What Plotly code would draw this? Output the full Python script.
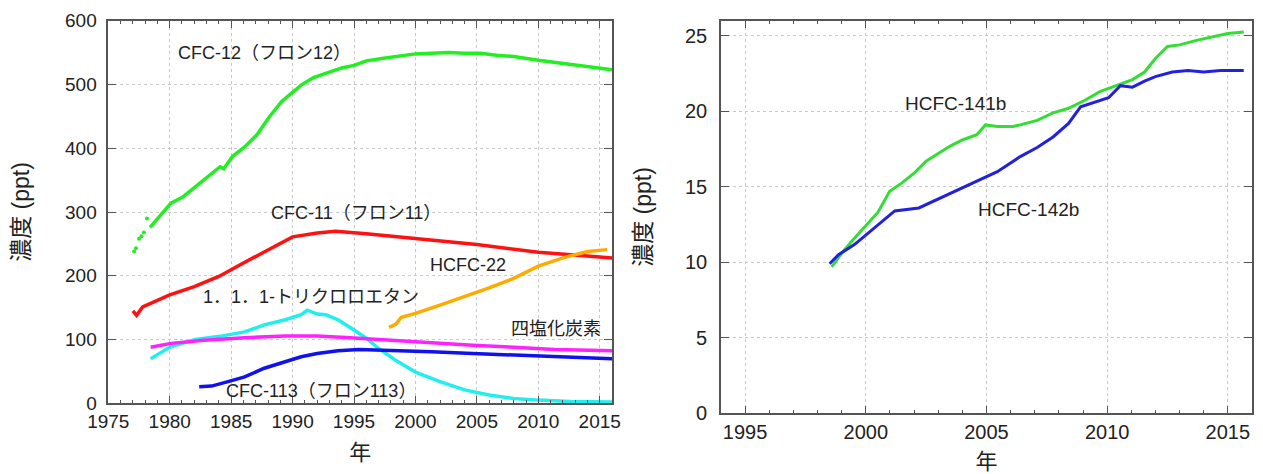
import plotly.graph_objects as go

# ---------------- Left panel data ----------------
cfc12_early_year = [1977.1, 1977.25, 1977.5, 1977.7, 1977.9, 1978.15]
cfc12_early = [238, 243, 258, 262, 268, 290]
cfc12_year = [1978.4, 1979.4, 1980.1, 1981.1, 1982.1, 1983.1, 1984.1, 1984.4, 1985.1, 1986.1,
              1987.1, 1988.1, 1989.1, 1989.7, 1990.7, 1991.7, 1992.7, 1994.0, 1995.0, 1996.0,
              1997.4, 1998.7, 2000.0, 2001.3, 2002.7, 2004.0, 2005.3, 2006.6, 2008.0, 2010.0,
              2011.9, 2013.9, 2015.3, 2016.0]
cfc12 = [276, 298, 314, 324, 340, 355, 371, 368, 387, 402,
         421, 449, 473, 483, 499, 511, 518, 526, 530, 537,
         541, 545, 548, 549, 550, 549, 549, 546, 544, 538,
         533, 528, 524, 523]

cfc11_year = [1977.0, 1977.3, 1977.8, 1980.0, 1982.0, 1984.0, 1986.0, 1988.0, 1990.0, 1992.0,
              1993.5, 1996.0, 2000.0, 2005.0, 2010.0, 2013.0, 2016.0]
cfc11 = [145, 138, 151, 170, 183, 199, 220, 241, 261, 267,
         270, 266, 259, 249, 237, 233, 228]

hcfc22_year = [1997.85, 1998.4, 1998.85, 2000.0, 2002.0, 2004.0, 2006.0, 2008.0, 2010.0, 2012.0,
               2014.0, 2015.6]
hcfc22 = [119, 124, 135, 141, 154, 167, 181, 196, 215, 228, 238, 241]

tca_year = [1978.45, 1979.45, 1980.1, 1982.1, 1984.1, 1986.1, 1987.7, 1989.4, 1990.7, 1991.2,
            1992.0, 1992.7, 1993.7, 1995.0, 1996.0, 1997.0, 1998.35, 2000.0, 2002.0, 2004.0,
            2006.0, 2008.0, 2010.0, 2012.6, 2016.0]
tca = [70, 81, 89, 100, 105, 112, 123, 131, 139, 146,
       140, 139, 131, 115, 102, 86, 68, 49, 34, 21,
       13, 7.6, 5, 3, 2]

ccl4_year = [1978.45, 1980.1, 1982.8, 1986.1, 1989.4, 1992.0, 1994.7, 1998.0, 2001.3, 2004.65,
             2008.0, 2011.3, 2016.0]
ccl4 = [88, 94, 99, 103, 105.5, 105.5, 103, 99, 94, 91, 88, 84.5, 82.5]

cfc113_year = [1982.4, 1983.4, 1984.75, 1986.1, 1987.7, 1989.4, 1990.7, 1992.0, 1993.7, 1995.4,
               1998.0, 2001.3, 2004.65, 2008.0, 2011.3, 2016.0]
cfc113 = [26, 27, 34, 41.5, 55, 65, 73, 78, 82.5, 84.5,
          83.5, 81, 78, 75.5, 74, 70]

# ---------------- Right panel data ----------------
hcfc141b_year = [1998.59, 1999.0, 1999.53, 2000.0, 2000.5, 2000.99, 2001.5, 2002.0, 2002.5, 2003.0,
                 2003.5, 2004.0, 2004.6, 2004.96, 2005.45, 2006.1, 2006.4, 2007.1, 2007.76, 2008.4,
                 2009.1, 2009.7, 2010.4, 2011.05, 2011.55, 2012.0, 2012.5, 2013.0, 2013.7, 2014.3,
                 2015.0, 2015.66]
hcfc141b = [9.7, 10.6, 11.6, 12.4, 13.3, 14.7, 15.26, 15.9, 16.7, 17.2,
            17.7, 18.1, 18.45, 19.1, 19.0, 19.0, 19.1, 19.4, 19.9, 20.2,
            20.75, 21.3, 21.7, 22.1, 22.6, 23.5, 24.3, 24.4, 24.7, 24.9,
            25.15, 25.26]

hcfc142b_year = [1998.5, 1998.87, 1999.53, 2000.0, 2000.5, 2001.2, 2002.2, 2003.0, 2003.8, 2004.6,
                 2005.45, 2006.4, 2007.1, 2007.76, 2008.4, 2008.9, 2009.6, 2010.06, 2010.55, 2011.05,
                 2011.55, 2012.0, 2012.7, 2013.35, 2014.0, 2014.7, 2015.66]
hcfc142b = [9.9, 10.5, 11.17, 11.8, 12.5, 13.4, 13.6, 14.2, 14.8, 15.4,
            16.0, 17.0, 17.6, 18.3, 19.2, 20.3, 20.65, 20.9, 21.7, 21.6,
            22.0, 22.3, 22.6, 22.7, 22.6, 22.7, 22.7]

left_labels = ["CFC-12（フロン12）", "CFC-11（フロン11）", "HCFC-22", "1．1．1-トリクロロエタン",
               "四塩化炭素", "CFC-113（フロン113）"]
right_labels = ["HCFC-141b", "HCFC-142b"]
y_title = "濃度 (ppt)"
x_title = "年"

FONT = "Liberation Sans, Arial, Noto Sans CJK JP, sans-serif"
TXT = "#222222"

fig = go.Figure()

def add_line(x, y, color, xa="x", ya="y", width=3.5):
    fig.add_trace(go.Scatter(x=x, y=y, mode="lines", line=dict(color=color, width=width),
                             xaxis=xa, yaxis=ya, showlegend=False, hoverinfo="skip"))

fig.add_trace(go.Scatter(x=cfc12_early_year, y=cfc12_early, mode="markers",
                         marker=dict(color="#22ee22", size=4), showlegend=False))
add_line(cfc12_year, cfc12, "#22ee22")
add_line(cfc11_year, cfc11, "#ff1111")
add_line(hcfc22_year, hcfc22, "#ffaa00")
add_line(tca_year, tca, "#22eeee")
add_line(ccl4_year, ccl4, "#ff22ff")
add_line(cfc113_year, cfc113, "#1111ee")

add_line(hcfc141b_year, hcfc141b, "#33dd33", "x2", "y2", 3)
add_line(hcfc142b_year, hcfc142b, "#2222dd", "x2", "y2", 3)

left_pos = [(1987.7, 549), (1995.2, 299), (2004.3, 217), (1991.5, 167), (2011.4, 116), (1992.35, 19)]
for t, (xx, yy) in zip(left_labels, left_pos):
    fig.add_annotation(x=xx, y=yy, xref="x", yref="y", text=t, showarrow=False,
                       font=dict(size=18, color=TXT, family=FONT))
right_pos = [(2003.7, 20.55), (2006.75, 13.5)]
for t, (xx, yy) in zip(right_labels, right_pos):
    fig.add_annotation(x=xx, y=yy, xref="x2", yref="y2", text=t, showarrow=False,
                       font=dict(size=19, color=TXT, family=FONT))

def axis_common(fs):
    return dict(showline=True, linecolor="#555555", linewidth=1.5, mirror="ticks",
                ticks="inside", ticklen=8, tickcolor="#555555", tickwidth=1.2,
                showgrid=True, gridcolor="#c8c8c8", griddash="dot", gridwidth=1,
                zeroline=False, automargin=False,
                tickfont=dict(size=fs, color=TXT, family=FONT))

minor = dict(dtick=1, ticks="inside", ticklen=4, tickcolor="#555555", showgrid=False)

# page body has an 8px margin: paper is 1255x466 placed at (8, 8)
fig.update_layout(
    template="none",
    width=1255, height=466,
    margin=dict(l=0, r=0, t=0, b=0, pad=0),
    paper_bgcolor="white", plot_bgcolor="white",
    font=dict(family=FONT, color=TXT),
    showlegend=False,
    xaxis=dict(domain=[0.0799, 0.4813], range=[1975, 2016], dtick=5, tick0=1975, minor=minor,
               title=dict(text=x_title, font=dict(size=22, color=TXT), standoff=14),
               anchor="y", **axis_common(19)),
    yaxis=dict(domain=[0.1517, 0.9727], range=[0, 600], dtick=100, tick0=0,
               title=dict(text=y_title, font=dict(size=23, color=TXT), standoff=29),
               anchor="x", ticklabelstandoff=6, **axis_common(19)),
    xaxis2=dict(domain=[0.5681, 0.9912], range=[1994, 2016], dtick=5, tick0=1995, minor=minor,
                title=dict(text=x_title, font=dict(size=22, color=TXT), standoff=14),
                anchor="y2", **axis_common(20)),
    yaxis2=dict(domain=[0.1303, 0.9727], range=[0, 26], dtick=5, tick0=0,
                title=dict(text=y_title, font=dict(size=23, color=TXT), standoff=27),
                anchor="x2", ticklabelstandoff=8, **axis_common(20)),
)

fig.write_html("out.html")
